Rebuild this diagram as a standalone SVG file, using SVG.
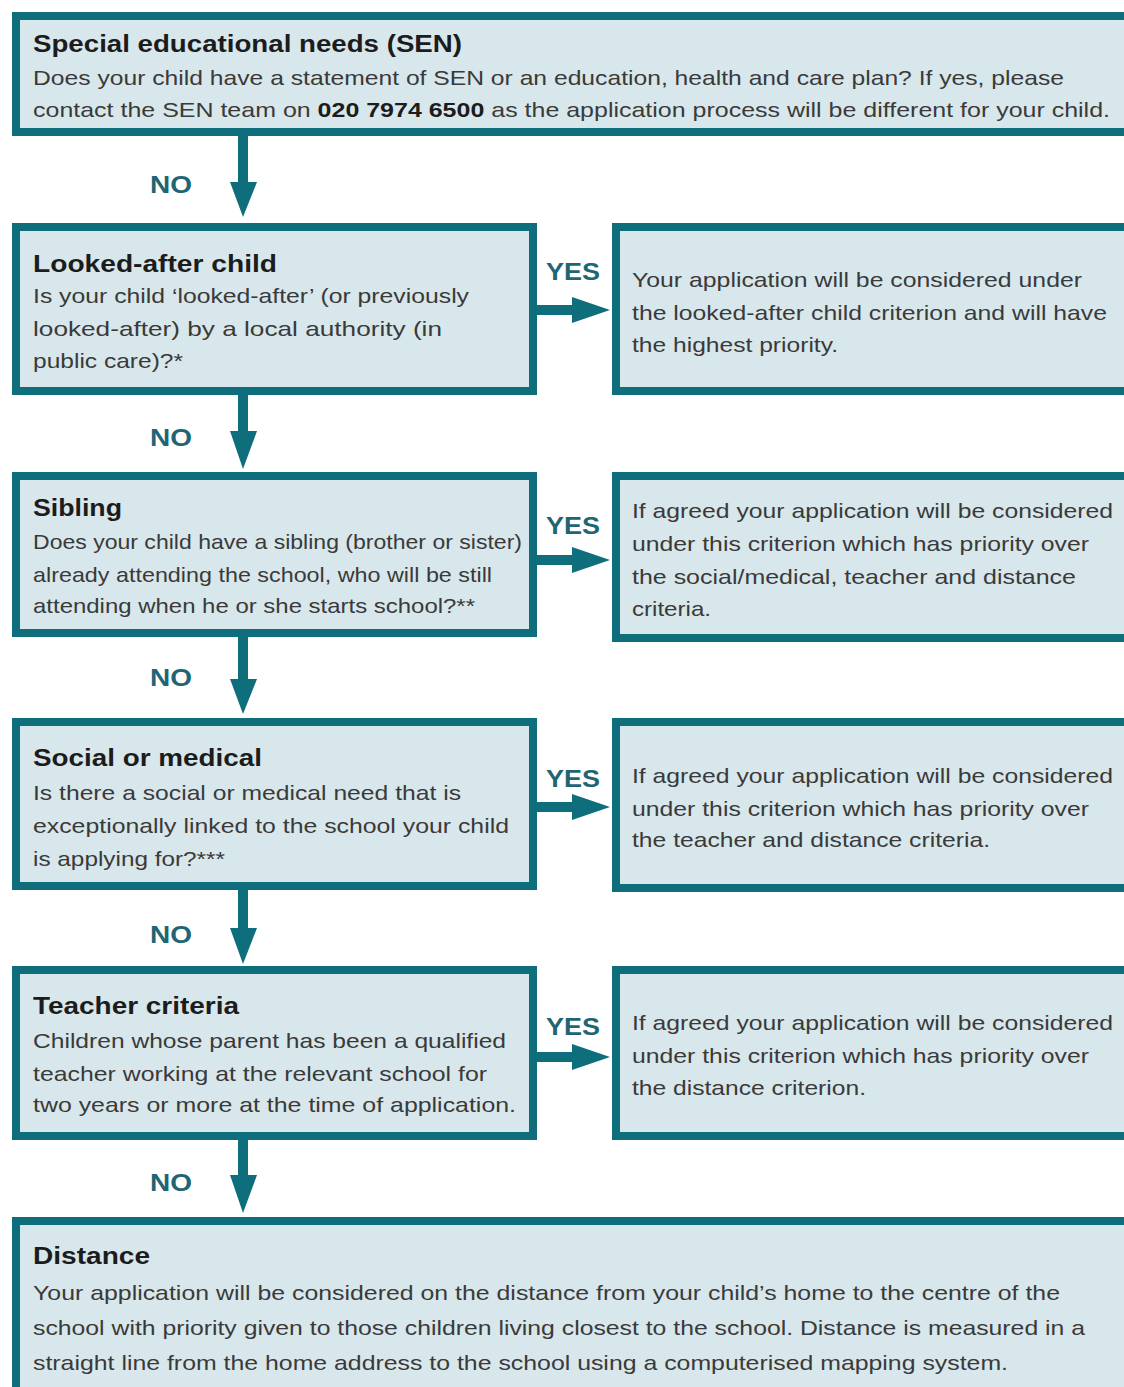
<svg xmlns="http://www.w3.org/2000/svg" width="1124" height="1387" viewBox="0 0 1124 1387">
<style>
.box{fill:#d8e7eb;stroke:#0f6e7c;stroke-width:8}
.h{font-family:"Liberation Sans",Arial,sans-serif;font-weight:bold;font-size:23px;fill:#1c1c1c}
.t{font-family:"Liberation Sans",Arial,sans-serif;font-size:21px;fill:#3a3a3a}
.b{font-weight:bold;fill:#1c1c1c}
.lbl{font-family:"Liberation Sans",Arial,sans-serif;font-weight:bold;font-size:24px;fill:#1f6574}
.arr{fill:#0f6e7c}
</style>
<rect width="1124" height="1387" fill="#ffffff"/>
<g id="connectors">
<path class="arr" d="M238,136 H248 V182 H257 L243,217 L230,182 H238 Z"/>
<path class="arr" d="M238,395 H248 V431 H257 L243,469 L230,431 H238 Z"/>
<path class="arr" d="M238,637 H248 V679 H257 L243,714 L230,679 H238 Z"/>
<path class="arr" d="M238,890 H248 V928 H257 L243,964 L230,928 H238 Z"/>
<path class="arr" d="M238,1140 H248 V1175 H257 L243,1213 L230,1175 H238 Z"/>
<path class="arr" d="M537,305 H572 V297 L610,310 L572,323 V315 H537 Z"/>
<path class="arr" d="M537,555 H572 V547 L610,560 L572,573 V565 H537 Z"/>
<path class="arr" d="M537,802 H572 V794 L610,807 L572,820 V812 H537 Z"/>
<path class="arr" d="M537,1052 H572 V1044 L610,1057 L572,1070 V1062 H537 Z"/>
<text class="lbl" x="150" y="193" textLength="42" lengthAdjust="spacingAndGlyphs">NO</text>
<text class="lbl" x="150" y="446" textLength="42" lengthAdjust="spacingAndGlyphs">NO</text>
<text class="lbl" x="150" y="686" textLength="42" lengthAdjust="spacingAndGlyphs">NO</text>
<text class="lbl" x="150" y="943" textLength="42" lengthAdjust="spacingAndGlyphs">NO</text>
<text class="lbl" x="150" y="1191" textLength="42" lengthAdjust="spacingAndGlyphs">NO</text>
<text class="lbl" x="546" y="280" textLength="54" lengthAdjust="spacingAndGlyphs">YES</text>
<text class="lbl" x="546" y="534" textLength="54" lengthAdjust="spacingAndGlyphs">YES</text>
<text class="lbl" x="546" y="787" textLength="54" lengthAdjust="spacingAndGlyphs">YES</text>
<text class="lbl" x="546" y="1035" textLength="54" lengthAdjust="spacingAndGlyphs">YES</text>
</g>
<g id="sen">
<rect class="box" x="16" y="16" width="1130" height="116"/>
<text class="h" x="33" y="52" textLength="429" lengthAdjust="spacingAndGlyphs">Special educational needs (SEN)</text>
<text class="t" x="33" y="85" textLength="1031" lengthAdjust="spacingAndGlyphs">Does your child have a statement of SEN or an education, health and care plan? If yes, please</text>
<text class="t" x="33" y="117" textLength="1077" lengthAdjust="spacingAndGlyphs">contact the SEN team on <tspan class="b">020 7974 6500</tspan> as the application process will be different for your child.</text>
</g>
<g id="looked-after">
<rect class="box" x="16" y="227" width="517" height="164"/>
<text class="h" x="33" y="272" textLength="244" lengthAdjust="spacingAndGlyphs">Looked-after child</text>
<text class="t" x="33" y="303" textLength="436" lengthAdjust="spacingAndGlyphs">Is your child ‘looked-after’ (or previously</text>
<text class="t" x="33" y="336" textLength="409" lengthAdjust="spacingAndGlyphs">looked-after) by a local authority (in</text>
<text class="t" x="33" y="368" textLength="150" lengthAdjust="spacingAndGlyphs">public care)?*</text>
</g>
<g id="looked-after-yes">
<rect class="box" x="616" y="227" width="530" height="164"/>
<text class="t" x="632" y="287" textLength="450" lengthAdjust="spacingAndGlyphs">Your application will be considered under</text>
<text class="t" x="632" y="320" textLength="475" lengthAdjust="spacingAndGlyphs">the looked-after child criterion and will have</text>
<text class="t" x="632" y="352" textLength="206" lengthAdjust="spacingAndGlyphs">the highest priority.</text>
</g>
<g id="sibling">
<rect class="box" x="16" y="476" width="517" height="157"/>
<text class="h" x="33" y="516" textLength="89" lengthAdjust="spacingAndGlyphs">Sibling</text>
<text class="t" x="33" y="549" textLength="489" lengthAdjust="spacingAndGlyphs">Does your child have a sibling (brother or sister)</text>
<text class="t" x="33" y="582" textLength="459" lengthAdjust="spacingAndGlyphs">already attending the school, who will be still</text>
<text class="t" x="33" y="613" textLength="442" lengthAdjust="spacingAndGlyphs">attending when he or she starts school?**</text>
</g>
<g id="sibling-yes">
<rect class="box" x="616" y="476" width="530" height="162"/>
<text class="t" x="632" y="518" textLength="481" lengthAdjust="spacingAndGlyphs">If agreed your application will be considered</text>
<text class="t" x="632" y="551" textLength="457" lengthAdjust="spacingAndGlyphs">under this criterion which has priority over</text>
<text class="t" x="632" y="584" textLength="444" lengthAdjust="spacingAndGlyphs">the social/medical, teacher and distance</text>
<text class="t" x="632" y="616" textLength="79" lengthAdjust="spacingAndGlyphs">criteria.</text>
</g>
<g id="social-medical">
<rect class="box" x="16" y="722" width="517" height="164"/>
<text class="h" x="33" y="766" textLength="229" lengthAdjust="spacingAndGlyphs">Social or medical</text>
<text class="t" x="33" y="800" textLength="428" lengthAdjust="spacingAndGlyphs">Is there a social or medical need that is</text>
<text class="t" x="33" y="833" textLength="476" lengthAdjust="spacingAndGlyphs">exceptionally linked to the school your child</text>
<text class="t" x="33" y="866" textLength="192" lengthAdjust="spacingAndGlyphs">is applying for?***</text>
</g>
<g id="social-medical-yes">
<rect class="box" x="616" y="722" width="530" height="166"/>
<text class="t" x="632" y="783" textLength="481" lengthAdjust="spacingAndGlyphs">If agreed your application will be considered</text>
<text class="t" x="632" y="816" textLength="457" lengthAdjust="spacingAndGlyphs">under this criterion which has priority over</text>
<text class="t" x="632" y="847" textLength="358" lengthAdjust="spacingAndGlyphs">the teacher and distance criteria.</text>
</g>
<g id="teacher">
<rect class="box" x="16" y="970" width="517" height="166"/>
<text class="h" x="33" y="1014" textLength="206" lengthAdjust="spacingAndGlyphs">Teacher criteria</text>
<text class="t" x="33" y="1048" textLength="473" lengthAdjust="spacingAndGlyphs">Children whose parent has been a qualified</text>
<text class="t" x="33" y="1081" textLength="454" lengthAdjust="spacingAndGlyphs">teacher working at the relevant school for</text>
<text class="t" x="33" y="1112" textLength="483" lengthAdjust="spacingAndGlyphs">two years or more at the time of application.</text>
</g>
<g id="teacher-yes">
<rect class="box" x="616" y="970" width="530" height="166"/>
<text class="t" x="632" y="1030" textLength="481" lengthAdjust="spacingAndGlyphs">If agreed your application will be considered</text>
<text class="t" x="632" y="1063" textLength="457" lengthAdjust="spacingAndGlyphs">under this criterion which has priority over</text>
<text class="t" x="632" y="1095" textLength="234" lengthAdjust="spacingAndGlyphs">the distance criterion.</text>
</g>
<g id="distance">
<rect class="box" x="16" y="1221" width="1130" height="180"/>
<text class="h" x="33" y="1264" textLength="117" lengthAdjust="spacingAndGlyphs">Distance</text>
<text class="t" x="33" y="1300" textLength="1027" lengthAdjust="spacingAndGlyphs">Your application will be considered on the distance from your child’s home to the centre of the</text>
<text class="t" x="33" y="1335" textLength="1052" lengthAdjust="spacingAndGlyphs">school with priority given to those children living closest to the school. Distance is measured in a</text>
<text class="t" x="33" y="1370" textLength="975" lengthAdjust="spacingAndGlyphs">straight line from the home address to the school using a computerised mapping system.</text>
</g>
</svg>
